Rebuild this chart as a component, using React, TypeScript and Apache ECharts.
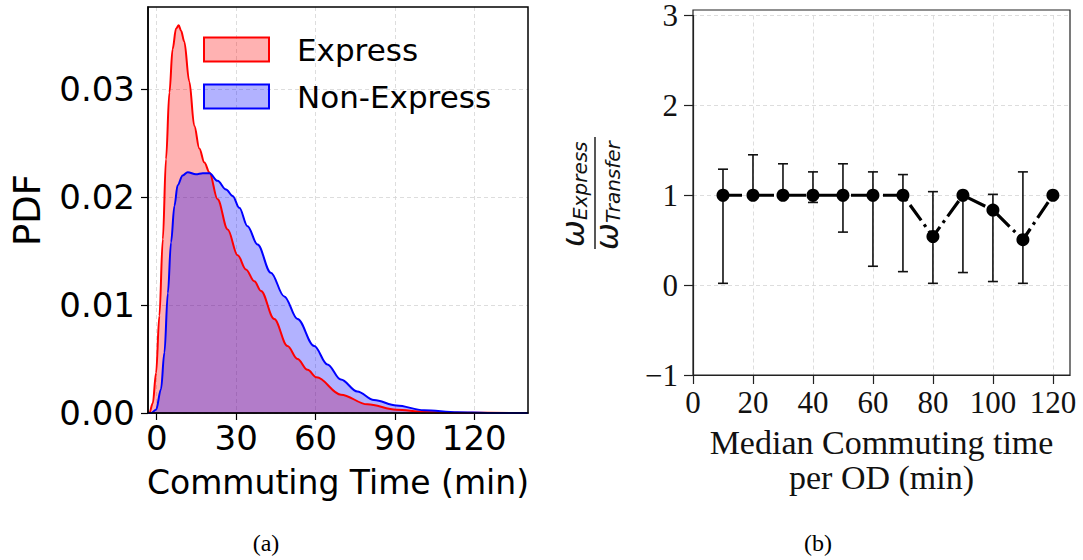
import React, { useEffect, useRef } from "react";
import * as echarts from "echarts";

// ---------- Panel (a): KDE of commuting time ----------
const expressTime = [-3.3, -2.8, -1.5, -0.25, 1.0, 2.3, 3.5, 4.8, 6.0, 7.3, 8.3, 9.2, 10.4, 12.3, 14.2, 16.1, 18.0, 19.9, 23.0, 26.8, 30.6, 33.7, 36.9, 39.4, 44.4, 49.4, 53.2, 57.0, 60.4, 69.6, 79.6, 90.6, 101, 115, 140.3];
const expressPdf = [0, 0, 0.0009, 0.0037, 0.009, 0.0161, 0.0235, 0.0297, 0.0337, 0.0356, 0.0359, 0.0354, 0.0344, 0.0307, 0.0266, 0.0245, 0.0232, 0.0223, 0.0198, 0.017, 0.0146, 0.0133, 0.0122, 0.0113, 0.0087, 0.0062, 0.005, 0.004, 0.0033, 0.0017, 0.0008, 0.0003, 0.0001, 0.00002, 0];

const nonExpressTime = [-3.3, -2.1, -0.25, 1.6, 2.9, 4.2, 5.4, 6.7, 7.9, 9.8, 11.7, 14.8, 17.4, 19.9, 23.0, 26.2, 28.7, 31.2, 34.3, 38.1, 43.1, 48.2, 53.2, 59.5, 64.5, 69.6, 75.8, 82.1, 90.6, 101, 113.6, 125, 140.3];
const nonExpressPdf = [0, 0, 0.0003, 0.0022, 0.0056, 0.0111, 0.0158, 0.0192, 0.0211, 0.022, 0.0223, 0.0221, 0.0222, 0.0222, 0.0215, 0.0207, 0.0201, 0.019, 0.0173, 0.0156, 0.013, 0.0108, 0.0087, 0.0062, 0.0045, 0.0031, 0.002, 0.0012, 0.0007, 0.00025, 0.00006, 0.00001, 0];

const timeTicks = [0, 30, 60, 90, 120];
const pdfTicks = [0, 0.01, 0.02, 0.03];

// ---------- Panel (b): weight ratio vs median commuting time ----------
const medianTime = [10, 20, 30, 40, 50, 60, 70, 80, 90, 100, 110, 120];
const ratio = [1, 1, 1, 1, 1, 1, 1, 0.54, 1, 0.835, 0.505, 1];
const ratioLow = [0.02, 1, 1, 0.92, 0.59, 0.21, 0.15, 0.02, 0.14, 0.04, 0.02, 1];
const ratioHigh = [1.29, 1.45, 1.35, 1.26, 1.35, 1.26, 1.23, 1.04, 1, 1.01, 1.26, 1];
const medianTicks = [0, 20, 40, 60, 80, 100, 120];

const SANS = '"DejaVu Sans"';
const SERIF = '"Liberation Serif"';
const GRID_LINE = { show: true, lineStyle: { color: "#d4d4d4", type: [4, 3], width: 0.8 } };

export default function App() {
  const ref = useRef<HTMLDivElement>(null);

  useEffect(() => {
    if (!ref.current) return;
    const chart = echarts.init(ref.current, null, { renderer: "svg" });

    const expressData = expressTime.map((t, i) => [t, expressPdf[i]]);
    const nonExpressData = nonExpressTime.map((t, i) => [t, nonExpressPdf[i]]);
    const ratioData = medianTime.map((t, i) => [t, ratio[i]]);
    const errData = medianTime.map((t, i) => [t, ratioLow[i], ratioHigh[i]]);

    const option: any = {
      animation: false,
      backgroundColor: "#ffffff",
      grid: [
        { left: 148, top: 7, width: 380, height: 406, show: false, containLabel: false },
        { left: 693, top: 10, width: 377, height: 365, show: false, containLabel: false },
      ],
      legend: {
        left: 203,
        top: 34,
        orient: "vertical",
        padding: 0,
        itemWidth: 65,
        itemHeight: 24,
        itemGap: 16,
        icon: "rect",
        selectedMode: false,
        textStyle: { fontFamily: SANS, fontSize: 31, color: "#000", padding: [0, 0, 0, 23] },
        data: [
          { name: "Express", itemStyle: { color: "rgba(255,0,0,0.3)", borderColor: "#ff0000", borderWidth: 2 } },
          { name: "Non-Express", itemStyle: { color: "rgba(0,0,255,0.3)", borderColor: "#0000ff", borderWidth: 2 } },
        ],
      },
      xAxis: [
        {
          gridIndex: 0,
          type: "value",
          min: -3.3,
          max: 140.3,
          name: "Commuting Time (min)",
          nameLocation: "middle",
          nameGap: 53,
          nameTextStyle: { fontFamily: SANS, fontSize: 33, color: "#000" },
          axisLine: { show: true, onZero: false, lineStyle: { color: "#000", width: 1.5 } },
          axisTick: { show: true, length: 7, customValues: timeTicks, lineStyle: { color: "#000", width: 1.2 } },
          axisLabel: { customValues: timeTicks, fontFamily: SANS, fontSize: 34, color: "#000", margin: 8 },
          splitLine: GRID_LINE,
        },
        {
          gridIndex: 1,
          type: "value",
          min: 0,
          max: 125.7,
          name: "Median Commuting time\nper OD (min)",
          nameLocation: "middle",
          nameGap: 50,
          nameTextStyle: { fontFamily: SERIF, fontSize: 34, color: "#111", lineHeight: 35, verticalAlign: "top" },
          axisLine: { show: true, onZero: false, lineStyle: { color: "#222", width: 1.2 } },
          axisTick: { show: true, length: 9, customValues: medianTicks, lineStyle: { color: "#222", width: 1.2 } },
          axisLabel: { customValues: medianTicks, fontFamily: SERIF, fontSize: 31, color: "#111", margin: 12 },
          splitLine: GRID_LINE,
        },
      ],
      yAxis: [
        {
          gridIndex: 0,
          type: "value",
          min: 0,
          max: 0.0376,
          name: "PDF",
          nameLocation: "middle",
          nameRotate: 90,
          nameGap: 102,
          nameTextStyle: { fontFamily: SANS, fontSize: 37, color: "#000" },
          axisLine: { show: true, onZero: false, lineStyle: { color: "#000", width: 1.5 } },
          axisTick: { show: true, length: 7, customValues: pdfTicks, lineStyle: { color: "#000", width: 1.2 } },
          axisLabel: {
            customValues: pdfTicks,
            fontFamily: SANS,
            fontSize: 34,
            color: "#000",
            margin: 13,
            formatter: (v: number) => v.toFixed(2),
          },
          splitLine: GRID_LINE,
        },
        {
          gridIndex: 1,
          type: "value",
          min: -1,
          max: 3,
          interval: 1,
          axisLine: { show: true, onZero: false, lineStyle: { color: "#222", width: 1.2 } },
          axisTick: { show: true, length: 9, lineStyle: { color: "#222", width: 1.2 } },
          axisLabel: {
            fontFamily: SERIF,
            fontSize: 31,
            lineHeight: 20,
            color: "#111",
            margin: 15,
            formatter: (v: number) => (v < 0 ? "\u2212" + Math.abs(v) : String(v)),
          },
          splitLine: GRID_LINE,
        },
      ],
      series: [
        {
          name: "Express",
          type: "line",
          xAxisIndex: 0,
          yAxisIndex: 0,
          data: expressData,
          smooth: 0.35,
          smoothMonotone: "x",
          showSymbol: false,
          lineStyle: { color: "#ff0000", width: 2 },
          itemStyle: { color: "#ff0000" },
          areaStyle: { color: "rgba(255,0,0,0.3)", opacity: 1 },
        },
        {
          name: "Non-Express",
          type: "line",
          xAxisIndex: 0,
          yAxisIndex: 0,
          data: nonExpressData,
          smooth: 0.35,
          smoothMonotone: "x",
          showSymbol: false,
          lineStyle: { color: "#0000ff", width: 2 },
          itemStyle: { color: "#0000ff" },
          areaStyle: { color: "rgba(0,0,255,0.3)", opacity: 1 },
        },
        {
          name: "error",
          type: "custom",
          xAxisIndex: 1,
          yAxisIndex: 1,
          data: errData,
          encode: { x: 0, y: [1, 2] },
          z: 2,
          renderItem: (params: any, api: any) => {
            const x = api.value(0);
            const lo = api.coord([x, api.value(1)]);
            const hi = api.coord([x, api.value(2)]);
            const cap = 5;
            const st = { stroke: "#111", lineWidth: 1.6 };
            return {
              type: "group",
              children: [
                { type: "line", shape: { x1: lo[0], y1: lo[1], x2: hi[0], y2: hi[1] }, style: st },
                { type: "line", shape: { x1: lo[0] - cap, y1: lo[1], x2: lo[0] + cap, y2: lo[1] }, style: st },
                { type: "line", shape: { x1: hi[0] - cap, y1: hi[1], x2: hi[0] + cap, y2: hi[1] }, style: st },
              ],
            };
          },
        },
        {
          name: "ratio",
          type: "line",
          xAxisIndex: 1,
          yAxisIndex: 1,
          data: ratioData,
          z: 3,
          symbol: "circle",
          symbolSize: 13,
          itemStyle: { color: "#000" },
          lineStyle: { color: "#000", width: 3.2, type: [19, 5, 3, 5] },
        },
      ],
      graphic: [
        // plot frames (spines)
        { type: "rect", z: 50, shape: { x: 148, y: 7, width: 380, height: 406 }, style: { fill: "none", stroke: "#000", lineWidth: 1.5 } },
        { type: "rect", z: 50, shape: { x: 693, y: 10, width: 377, height: 365 }, style: { fill: "none", stroke: "#222", lineWidth: 1.2 } },
        {
          type: "group",
          x: 595,
          y: 193,
          rotation: Math.PI / 2,
          children: [
            { type: "line", shape: { x1: -56, y1: 0, x2: 56, y2: 0 }, style: { stroke: "#111", lineWidth: 1.4 } },
            { type: "text", x: -54, y: -22, style: { text: "\u03c9", font: `italic 32px ${SANS}`, fill: "#111", align: "left", verticalAlign: "middle" } },
            { type: "text", x: -27, y: -15, style: { text: "Express", font: `italic 20px ${SANS}`, fill: "#111", align: "left", verticalAlign: "middle" } },
            { type: "text", x: -57, y: 12, style: { text: "\u03c9", font: `italic 32px ${SANS}`, fill: "#111", align: "left", verticalAlign: "middle" } },
            { type: "text", x: -30, y: 18, style: { text: "Transfer", font: `italic 20px ${SANS}`, fill: "#111", align: "left", verticalAlign: "middle" } },
          ],
        },
        { type: "text", x: 266, y: 543, style: { text: "(a)", font: `24px ${SERIF}`, fill: "#000", align: "center", verticalAlign: "middle" } },
        { type: "text", x: 818, y: 543, style: { text: "(b)", font: `24px ${SERIF}`, fill: "#000", align: "center", verticalAlign: "middle" } },
      ],
    };

    chart.setOption(option);
    return () => chart.dispose();
  }, []);

  return (
    <div
      ref={ref}
      style={{ position: "absolute", left: 0, top: 0, width: 1083, height: 560, background: "#fff" }}
    />
  );
}
